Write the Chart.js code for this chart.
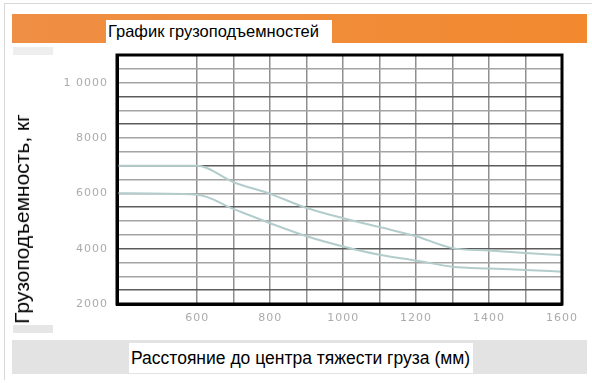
<!DOCTYPE html>
<html><head><meta charset="utf-8">
<script src="https://cdn.jsdelivr.net/npm/chart.js@4.4.1/dist/chart.umd.min.js"></script>
<style>
html,body{margin:0;padding:0;background:#fff;width:592px;height:383px;overflow:hidden;font-family:"Liberation Sans",Arial,sans-serif;}
#frame{position:absolute;left:4px;top:3px;width:588px;height:376px;border-top:1px solid #d8d8d8;border-left:1px solid #d8d8d8;}
#band{position:absolute;left:12px;top:14px;width:575px;height:29px;background:linear-gradient(90deg,#ef8f45,#f2892f);}
#title{position:absolute;left:106px;top:20px;width:226px;height:23px;background:#fff;font-size:16.5px;line-height:23px;padding-left:2px;box-sizing:border-box;color:#000;}
#lgray{position:absolute;left:13px;top:47px;width:40px;height:8px;background:#eee;}
#ybox{position:absolute;left:13px;top:55px;width:40px;height:270px;background:#fff;}
#lgray2{position:absolute;left:13px;top:325px;width:40px;height:8px;background:#e6e6e6;}
#ytitle{position:absolute;left:22px;top:219px;transform:translate(-50%,-50%) rotate(-90deg);white-space:nowrap;font-size:21px;color:#000;}
#bband{position:absolute;left:12px;top:340px;width:575px;height:34px;background:#e3e3e3;}
#xtitle{position:absolute;left:129px;top:343px;width:344px;height:30px;background:#fff;font-size:17.5px;line-height:30px;padding-left:2px;box-sizing:border-box;color:#000;}
#c{position:absolute;left:0;top:0;}
</style></head>
<body>
<div id="frame"></div>
<div id="band"></div>
<div id="title">График грузоподъемностей</div>
<div id="lgray"></div>
<div id="ybox"></div>
<div id="lgray2"></div>
<div id="bband"></div>
<div id="xtitle">Расстояние до центра тяжести груза (мм)</div>
<canvas id="c" width="592" height="383"></canvas>
<div id="ytitle">Грузоподъемность, кг</div>
<script>
// Data
const distances = [380, 600, 700, 800, 900, 1000, 1100, 1200, 1300, 1400, 1500, 1600];
const capacityUpper = [7000, 7000, 6400, 5980, 5470, 5100, 4780, 4450, 4020, 3930, 3840, 3770];
const capacityLower = [6000, 5950, 5430, 4920, 4450, 4080, 3780, 3570, 3350, 3280, 3230, 3170];
const xTickValues = [600, 700, 800, 900, 1000, 1100, 1200, 1300, 1400, 1500, 1600];
const xTickLabels = ['600', '', '800', '', '1000', '', '1200', '', '1400', '', '1600'];
const yTickValues = [2000, 2500, 3000, 3500, 4000, 4500, 5000, 5500, 6000, 6500, 7000, 7500, 8000, 8500, 9000, 9500, 10000, 10500, 11000];
const yTickLabels = ['2000', '', '', '', '4000', '', '', '', '6000', '', '', '', '8000', '', '', '', '1 0000', '', ''];
const darkYLines = [2500, 4000, 5500, 7000, 8500, 9500];

const frameBorder = {
  id: 'frameBorder',
  beforeInit(chart) { chart.ctx.letterSpacing = '1px'; },
  beforeDraw(chart) { chart.ctx.letterSpacing = '1px'; },
  afterDraw(chart) {
    const {ctx, chartArea: a} = chart;
    ctx.save();
    ctx.strokeStyle = '#000';
    ctx.lineWidth = 3;
    ctx.strokeRect(a.left, a.top, a.right - a.left, a.bottom - a.top);
    ctx.restore();
  }
};

const tickFont = {family: '"DejaVu Sans", sans-serif', size: 11};

new Chart(document.getElementById('c'), {
  type: 'line',
  data: {
    datasets: [
      {data: distances.map((x, i) => ({x, y: capacityUpper[i]})), borderColor: '#b3cccc', borderWidth: 2, pointRadius: 0, cubicInterpolationMode: 'monotone', fill: false},
      {data: distances.map((x, i) => ({x, y: capacityLower[i]})), borderColor: '#b3cccc', borderWidth: 2, pointRadius: 0, cubicInterpolationMode: 'monotone', fill: false}
    ]
  },
  options: {
    responsive: false,
    animation: false,
    layout: {padding: {top: 55, right: 30, bottom: 0, left: 0}},
    plugins: {legend: {display: false}, tooltip: {enabled: false}, title: {display: false}},
    scales: {
      x: {
        type: 'linear', min: 380, max: 1600,
        afterBuildTicks: s => { s.ticks = xTickValues.map(v => ({value: v})); },
        afterFit: s => { s.height = 79; },
        ticks: {
          autoSkip: false, maxRotation: 0, padding: 8, color: '#ababab', font: tickFont,
          callback: (v) => { const i = xTickValues.indexOf(v); return i >= 0 ? xTickLabels[i] : ''; }
        },
        grid: {color: '#8f8f8f', lineWidth: 1.5, drawTicks: false},
        border: {display: true, color: '#000', width: 3}
      },
      y: {
        type: 'linear', min: 2000, max: 11000,
        afterBuildTicks: s => { s.ticks = yTickValues.map(v => ({value: v})); },
        afterFit: s => { s.width = 117; },
        ticks: {
          autoSkip: false, padding: 9, color: '#ababab', font: tickFont,
          callback: (v) => { const i = yTickValues.indexOf(v); return i >= 0 ? yTickLabels[i] : ''; }
        },
        grid: {
          drawTicks: false, lineWidth: 1.5,
          color: ctx => darkYLines.includes(ctx.tick && ctx.tick.value) ? '#5c5c5c' : '#a4a4a4'
        },
        border: {display: true, color: '#000', width: 3}
      }
    }
  },
  plugins: [frameBorder]
});
</script>
</body></html>
